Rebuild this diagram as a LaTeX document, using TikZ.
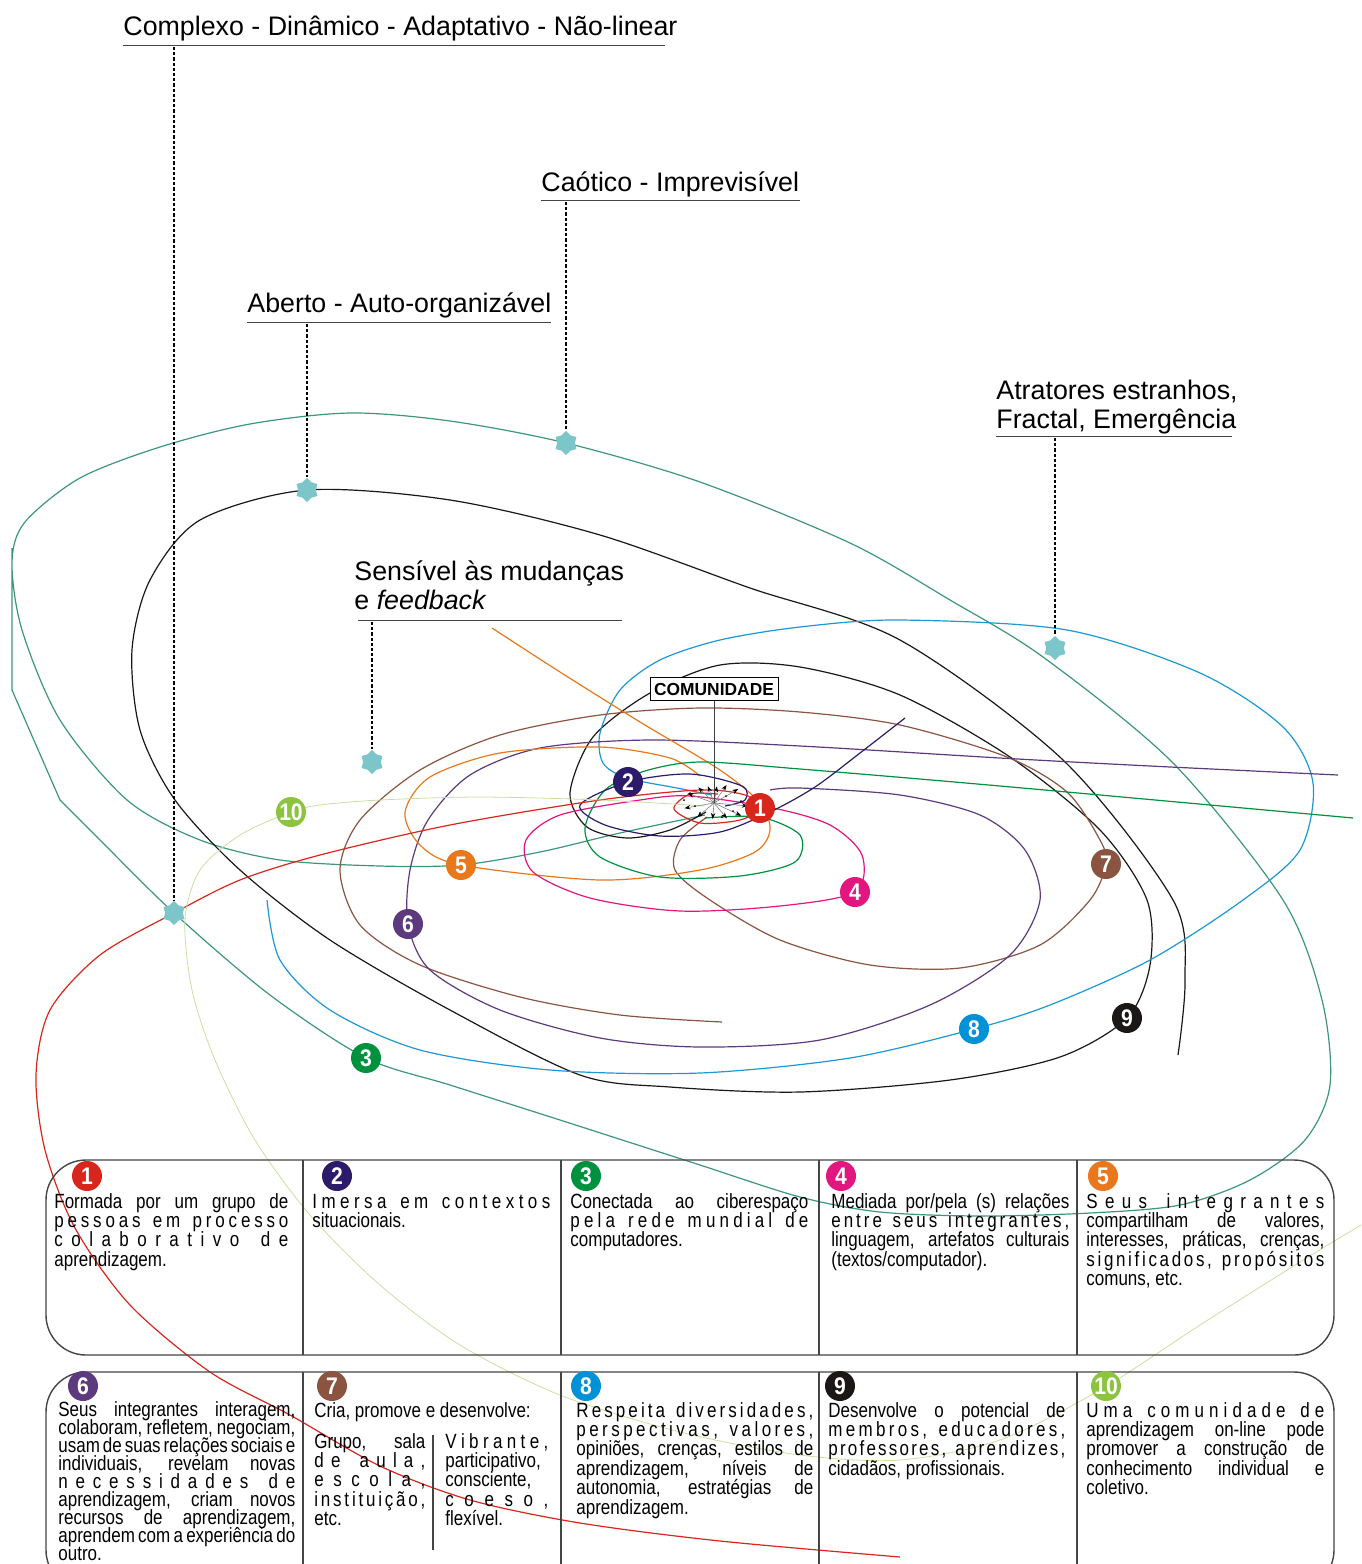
\documentclass[tikz,border=0pt]{standalone}
\usepackage{fontspec}
\setmainfont{Liberation Sans}
\newfontfamily\cellfont{Liberation Sans}[FakeStretch=0.825]
\newfontfamily\numfont{Liberation Sans}[FakeStretch=0.88]
\usepackage{xcolor}
\usepackage{tikz}
\usetikzlibrary{arrows.meta,shapes.geometric}

\definecolor{cred}{HTML}{D8261D}
\definecolor{cnavy}{HTML}{2C1A6B}
\definecolor{cgreen}{HTML}{00913F}
\definecolor{cmag}{HTML}{E3157F}
\definecolor{corange}{HTML}{E9781C}
\definecolor{cpurple}{HTML}{5C3A7D}
\definecolor{cbrown}{HTML}{8B5441}
\definecolor{cblue}{HTML}{1B98D5}
\definecolor{cbluebadge}{HTML}{0091D7}
\definecolor{cblack}{HTML}{1A1716}
\definecolor{clime}{HTML}{8CC43F}
\definecolor{cpale}{HTML}{C9DFA0}
\definecolor{cteal}{HTML}{3E9678}
\definecolor{cflake}{HTML}{7CC6CA}
\definecolor{cgray}{HTML}{444444}

% lines of the table cells
\newcommand\jn[1]{\hbox{#1}}
\newcommand\jw[1]{\hbox to\hsize{\spaceskip=\fontdimen2\font plus 1fil minus .6\fontdimen2\font\relax #1}}
\ExplSyntaxOn
\NewDocumentCommand\jl{m}{\hbox_to_wd:nn{\hsize}{\str_map_inline:nn{#1}{##1\hfil}\unskip}}
\ExplSyntaxOff
\newcommand\cellbox[2]{\vtop{\hsize=#1\lineskiplimit=-20pt\relax#2}}

\begin{document}
\begin{tikzpicture}[x=0.5pt,y=-0.5pt,
	curve/.style={line width=0.6pt},
	badge/.style={circle,fill=#1,text=white,inner sep=0pt,minimum size=15pt,
		font=\numfont\bfseries\fontsize{12}{12}\selectfont},
	flake/.style={star,star points=6,star point ratio=1.35,fill=cflake,inner sep=0pt,minimum size=12pt},
	dotline/.style={line width=1.1pt,dash pattern=on 1.6pt off 1pt},
	rule/.style={draw=cgray,line width=0.5pt},
	frame/.style={draw=cgray,line width=0.7pt,rounded corners=20pt},
	head/.style={inner sep=0pt,anchor=base west,font=\fontsize{13.4}{16}\selectfont},
	cell/.style={inner sep=0pt,anchor=base west,font=\cellfont\fontsize{10.3}{9.7}\selectfont},
	spoke/.style={draw=gray,line width=0.3pt,-{Stealth[length=3pt,width=2.2pt,black]}}]
		\useasboundingbox (0,0) rectangle (1361,1564);
		\clip (0,0) rectangle (1361,1564);
		%
		\coordinate (hub) at (714,803);
		\coordinate (p1) at (760,808);
		\coordinate (p2) at (628,782);
		\coordinate (p3) at (366,1058);
		\coordinate (p4) at (855,892);
		\coordinate (p5) at (461,865);
		\coordinate (p6) at (408,924);
		\coordinate (p7) at (1106,864);
		\coordinate (p8) at (974,1029);
		\coordinate (p9) at (1127,1018);
		\coordinate (p10) at (291,812);
		%
		% orbits
		\draw[curve,cteal] plot[smooth] coordinates {(705,815) (620,833) (540,852) (p5) (380,866) (280,860)
			(200,840) (127,800) (60,720) (22,630) (12,562) (25,522) (80,478) (160,447) (250,424) (350,413)
			(450,421) (566,443) (700,482) (850,543) (950,600) (1043,657) (1173,763) (1283,900) (1322,1000)
			(1330,1085) (1305,1140) (1250,1180) (1180,1205) (1090,1213) (980,1216) (880,1212) (800,1197)
			(700,1165) (560,1120) (450,1085) (p3) (270,995) (174,913) (100,840) (60,800)} -- (12,690) -- (12,548);
		\draw[curve,cblack] plot[smooth] coordinates {(706,812) (670,830) (627,838) (587,827) (570,793)
			(593,737) (650,693) (720,665) (800,667) (900,695) (1010,757) (1100,830) (1147,900) (1150,965)
			(p9) (1060,1057) (950,1080) (800,1092) (670,1087) (580,1075) (450,1010) (330,940) (240,870)
			(175,800) (140,730) (132,650) (150,580) (200,520) (307,490) (450,500) (600,535) (750,588)
			(900,640) (1063,760) (1173,900) (1185,980) (1178,1055)};
		\draw[curve,cblue] plot[smooth] coordinates {(712,795) (677,788) (627,778) (603,763) (600,733)
			(620,690) (660,660) (720,640) (800,627) (900,620) (1067,630) (1200,673) (1283,727) (1313,783)
			(1300,850) (1243,900) (1150,960) (1050,1005) (p8) (850,1058) (700,1073) (550,1070) (420,1050)
			(330,1010) (280,960) (267,900)};
		\draw[curve,cbrown] plot[smooth] coordinates {(707,817) (680,840) (675,870) (710,900) (780,940)
			(870,965) (960,968) (1040,945) (1090,900) (p7) (1100,840) (1067,792) (1007,757) (900,725)
			(800,712) (700,708) (600,715) (500,735) (420,770) (360,820) (340,870) (360,925) (420,965)
			(520,997) (620,1015) (722,1022)};
		\draw[curve,cpurple] plot[smooth] coordinates {(1338,775) (1150,766) (1000,758) (800,746) (650,740)
			(540,748) (470,775) (428,820) (410,870) (p6) (430,970) (500,1010) (600,1038) (700,1047)
			(820,1040) (930,1005) (1010,955) (1040,900) (1025,850) (980,815) (900,795) (800,788) (770,790)};
		\draw[curve,corange] plot[smooth] coordinates {(492,628) (560,672) (640,722) (720,770) (760,803)
			(770,830) (755,852) (700,870) (600,880) (p5) (420,845) (405,812) (430,777) (500,753) (600,747)
			(670,758) (700,776)};
		\draw[curve,cmag] plot[smooth cycle] coordinates {(690,796) (773,808) (830,825) (862,855) (p4)
			(780,906) (680,911) (590,898) (533,872) (526,840) (560,815) (640,800)};
		\draw[curve,cgreen] plot[smooth] coordinates {(705,818) (760,817) (800,835) (795,862) (740,876)
			(660,877) (600,857) (585,828) (605,790) (645,771) (700,762) (800,769) (1000,786) (1353,818)};
		\draw[curve,cnavy] plot[smooth] coordinates {(905,718) (860,753) (815,787) (770,812) (720,832)
			(660,836) (605,825) (580,805) (p2) (690,774) (742,786) (745,800) (725,806)};
		\draw[curve,cred] plot[smooth] coordinates {(900,1557) (720,1541) (580,1523) (470,1500) (380,1466)
			(290,1415) (210,1372) (130,1305) (75,1228) (45,1150) (36,1075) (50,1010) (100,955) (174,913)
			(240,880) (320,855) (450,825) (600,800) (700,790) (745,795) (p1) (740,820) (700,823) (674,809)
			(690,794) (718,794)};
		\draw[line width=0.4pt,cpale] plot[smooth] coordinates {(705,806) (600,800) (480,797) (380,800)
			(320,805) (p10) (240,835) (200,870) (185,920) (192,990) (215,1060) (255,1140) (310,1215)
			(380,1285) (460,1345) (560,1395) (680,1432) (800,1455) (900,1460) (1000,1440) (1100,1390)
			(1200,1325) (1300,1262) (1361,1225)};
		%
		% the community and its arrows
		\foreach \a/\r in {5/34,25/30,50/20,95/16,140/22,170/30,200/28,225/22,250/18,280/17,305/22,330/28}
			\draw[spoke] (hub) -- ++(\a:\r);
		\foreach \x/\y in {690/793,700/813,733/811,726/796,695/806,741/801,684/800,722/817}
			\fill (\x,\y) circle[radius=1];
		\node[draw=black,line width=0.5pt,fill=white,inner sep=0pt,minimum width=64pt,minimum height=11.5pt,
			font=\bfseries\fontsize{8.7}{10}\selectfont] (com) at (714,689) {COMUNIDADE};
		\draw[line width=0.4pt,black!75] (com) -- (hub);
		%
		% numbers on the orbits
		\node[badge=cred] (b1) at (p1) {1};
		\node[badge=cnavy] (b2) at (p2) {2};
		\node[badge=cgreen] (b3) at (p3) {3};
		\node[badge=cmag] (b4) at (p4) {4};
		\node[badge=corange] (b5) at (p5) {5};
		\node[badge=cpurple] (b6) at (p6) {6};
		\node[badge=cbrown] (b7) at (p7) {7};
		\node[badge=cbluebadge] (b8) at (p8) {8};
		\node[badge=cblack] (b9) at (p9) {9};
		\node[badge=clime] (b10) at (p10) {10};
		%
		% headings
		\node[head] (hcomplexo) at (123,35) {Complexo - Dinâmico - Adaptativo - Não-linear};
		\node[head] (hcaotico) at (541,191) {Caótico - Imprevisível};
		\node[head] (haberto) at (247,312) {Aberto - Auto-organizável};
		\node[head] (hatrat) at (996,399) {Atratores estranhos,};
		\node[head] (hatrat2) at (996,428) {Fractal, Emergência};
		\node[head] (hsens) at (354,580) {Sensível às mudanças};
		\node[head] (hsens2) at (354,609) {e \emph{feedback}};
		\draw[rule] (123,45) -- (665,45);
		\draw[rule] (541,200) -- (800,200);
		\draw[rule] (247,322) -- (551,322);
		\draw[rule] (996,436) -- (1232,436);
		\draw[rule] (358,620) -- (622,620);
		%
		\node[flake] (acomplexo) at (174,913) {};
		\node[flake] (acaotico) at (566,443) {};
		\node[flake] (aaberto) at (307,490) {};
		\node[flake] (aatrat) at (1055,648) {};
		\node[flake] (asens) at (372,762) {};
		\coordinate (ucomplexo) at (174,47);
		\coordinate (ucaotico) at (566,202);
		\coordinate (uaberto) at (307,324);
		\coordinate (uatrat) at (1055,438);
		\coordinate (usens) at (372,622);
		\draw[dotline] (ucomplexo) -- (acomplexo);
		\draw[dotline] (ucaotico) -- (acaotico);
		\draw[dotline] (uaberto) -- (aaberto);
		\draw[dotline] (uatrat) -- (aatrat);
		\draw[dotline] (usens) -- (asens);
		%
		% table
		\draw[frame] (46,1160) rectangle (1334,1355);
		\draw[frame] (46,1372) rectangle (1334,1590);
		\foreach \x in {303,561,819,1077} {
			\draw[rule,line width=0.7pt] (\x,1160) -- (\x,1355);
			\draw[rule,line width=0.7pt] (\x,1372) -- (\x,1564);
		}
		\draw[rule,line width=0.7pt] (433,1435) -- (433,1550);
		%
		\node[badge=cred] (t1) at (87,1176) {1};
		\node[badge=cnavy] (t2) at (337,1176) {2};
		\node[badge=cgreen] (t3) at (586,1176) {3};
		\node[badge=cmag] (t4) at (841,1176) {4};
		\node[badge=corange] (t5) at (1103,1176) {5};
		\node[badge=cpurple] (t6) at (83,1386) {6};
		\node[badge=cbrown] (t7) at (332,1386) {7};
		\node[badge=cbluebadge] (t8) at (586,1386) {8};
		\node[badge=cblack] (t9) at (840,1386) {9};
		\node[badge=clime] (t10) at (1106,1386) {10};
		%
		\node[cell] (c1) at (54,1208) {\cellbox{117pt}{\jw{Formada por um grupo de}\jl{pessoas em processo}
			\jl{colaborativo de}\jn{aprendizagem.}}};
		\node[cell] (c2) at (312,1208) {\cellbox{119pt}{\jl{Imersa em contextos}\jn{situacionais.}}};
		\node[cell] (c3) at (570,1208) {\cellbox{119pt}{\jw{Conectada ao ciberespaço}\jl{pela rede mundial de}
			\jn{computadores.}}};
		\node[cell] (c4) at (831,1208) {\cellbox{119pt}{\jw{Mediada por/pela (s) relações}\jl{entre seus integrantes,}
			\jw{linguagem, artefatos culturais}\jn{(textos/computador).}}};
		\node[cell] (c5) at (1086,1208) {\cellbox{119pt}{\jl{Seus integrantes}\jw{compartilham de valores,}
			\jw{interesses, práticas, crenças,}\jl{significados, propósitos}\jn{comuns, etc.}}};
		\node[cell,font=\cellfont\fontsize{10.3}{9.05}\selectfont] (c6) at (58,1416) {\cellbox{118.5pt}{\jw{Seus integrantes interagem,}
			\jw{colaboram, refletem, negociam,}\jw{usam de suas relações sociais e}\jw{individuais, revelam novas}
			\jl{necessidades de}\jw{aprendizagem, criam novos}\jw{recursos de aprendizagem,}
			\jw{aprendem com a experiência do}\jn{outro.}}};
		\node[cell] (c7) at (314,1417) {\cellbox{112pt}{\jn{Cria, promove e desenvolve:}}};
		\node[cell] (c7a) at (314,1448) {\cellbox{55.5pt}{\jw{Grupo, sala}\jl{de aula,}\jl{escola,}
			\jl{instituição,}\jn{etc.}}};
		\node[cell] (c7b) at (445,1448) {\cellbox{51.5pt}{\jl{Vibrante,}\jn{participativo,}\jn{consciente,}
			\jl{coeso,}\jn{flexível.}}};
		\node[cell] (c8) at (576,1417) {\cellbox{118.5pt}{\jl{Respeita diversidades,}\jl{perspectivas, valores,}
			\jw{opiniões, crenças, estilos de}\jw{aprendizagem, níveis de}\jw{autonomia, estratégias de}
			\jn{aprendizagem.}}};
		\node[cell] (c9) at (828,1417) {\cellbox{118.5pt}{\jw{Desenvolve o potencial de}\jl{membros, educadores,}
			\jl{professores, aprendizes,}\jn{cidadãos, profissionais.}}};
		\node[cell] (c10) at (1086,1417) {\cellbox{119pt}{\jl{Uma comunidade de}\jw{aprendizagem on-line pode}
			\jw{promover a construção de}\jw{conhecimento individual e}\jn{coletivo.}}};
	\end{tikzpicture}
\end{document}
